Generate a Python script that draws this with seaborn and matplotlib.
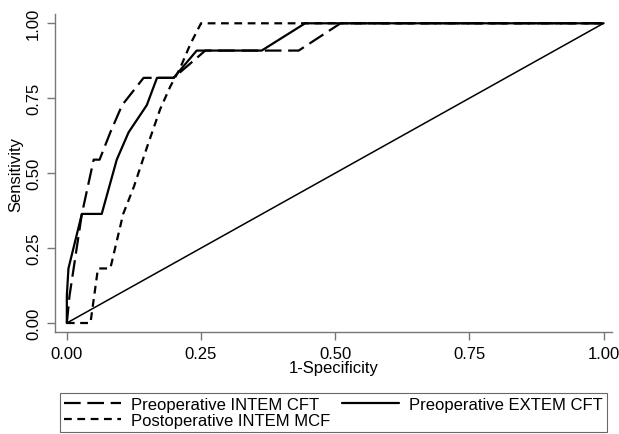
import seaborn as sns
import pandas as pd
import matplotlib.pyplot as plt

# ROC curves (1-specificity, sensitivity)
intem_cft_fpr = [0, 0.005, 0.028, 0.050, 0.061, 0.081, 0.103, 0.143, 0.199, 0.258, 0.432, 0.51, 1.0]
intem_cft_sens = [0, 0.091, 0.364, 0.545, 0.545, 0.636, 0.727, 0.818, 0.818, 0.909, 0.909, 1.0, 1.0]

extem_cft_fpr = [0, 0, 0.003, 0.028, 0.065, 0.093, 0.115, 0.149, 0.168, 0.199, 0.242, 0.363, 0.444, 1.0]
extem_cft_sens = [0, 0.091, 0.182, 0.364, 0.364, 0.545, 0.636, 0.727, 0.818, 0.818, 0.909, 0.909, 1.0, 1.0]

postop_mcf_fpr = [0, 0.044, 0.058, 0.081, 0.105, 0.125, 0.150, 0.174, 0.193, 0.211, 0.230, 0.25, 1.0]
postop_mcf_sens = [0, 0, 0.182, 0.182, 0.364, 0.455, 0.59, 0.714, 0.79, 0.85, 0.93, 1.0, 1.0]

ref_fpr = [0, 1]
ref_sens = [0, 1]

ticks = [0, 0.25, 0.5, 0.75, 1.0]
tick_labels = ["0.00", "0.25", "0.50", "0.75", "1.00"]

sns.set_theme(style="ticks")
plt.rcParams['font.family'] = ['Liberation Sans', 'DejaVu Sans']
plt.rcParams['text.color'] = 'black'
plt.rcParams['axes.labelcolor'] = 'black'
plt.rcParams['xtick.labelcolor'] = 'black'
plt.rcParams['ytick.labelcolor'] = 'black'

fig = plt.figure(figsize=(6.19, 4.35), dpi=100)
ax = fig.add_axes([0.0889, 0.2338, 0.9, 0.7317])

lines = [
    ("Preoperative INTEM CFT", intem_cft_fpr, intem_cft_sens, (0, (7.5, 3))),
    ("Postoperative INTEM MCF", postop_mcf_fpr, postop_mcf_sens, (0, (3.5, 2.5))),
    ("Preoperative EXTEM CFT", extem_cft_fpr, extem_cft_sens, "-"),
]
for name, fx, fy, ls in lines:
    df = pd.DataFrame({"x": fx, "y": fy})
    sns.lineplot(data=df, x="x", y="y", estimator=None, sort=False, ax=ax,
                 color="black", linewidth=1.6, linestyle=ls, label=name)

sns.lineplot(x=ref_fpr, y=ref_sens, estimator=None, sort=False, ax=ax,
             color="black", linewidth=1.1)

ax.set_xlim(-0.022, 1.016)
ax.set_ylim(-0.031, 1.031)
ax.set_xticks(ticks)
ax.set_xticklabels(tick_labels)
ax.set_yticks(ticks)
ax.set_yticklabels(tick_labels, rotation=90, va="center")
ax.tick_params(length=6, width=1, color="#777777", labelsize=12, pad=4,
               labelcolor="black")
for s in ["top", "right"]:
    ax.spines[s].set_visible(False)
for s in ["left", "bottom"]:
    ax.spines[s].set_color("#777777")
    ax.spines[s].set_linewidth(1)
ax.set_xlabel("1-Specificity", fontsize=12, labelpad=-1)
ax.set_ylabel("Sensitivity", fontsize=12, labelpad=2)

h, l = ax.get_legend_handles_labels()
leg = fig.legend(h, l, loc="lower left", ncol=2, mode="expand",
                 bbox_to_anchor=(60 / 619, 0.004, 547 / 619, 0.106),
                 bbox_transform=fig.transFigure, borderaxespad=0,
                 frameon=True, fancybox=False, edgecolor="#444444",
                 fontsize=12, handlelength=3.4, handletextpad=0.6,
                 labelspacing=0.05, borderpad=0.25)
leg.get_frame().set_linewidth(0.8)
ax.get_legend().remove()

plt.savefig("out.png", dpi=100)
